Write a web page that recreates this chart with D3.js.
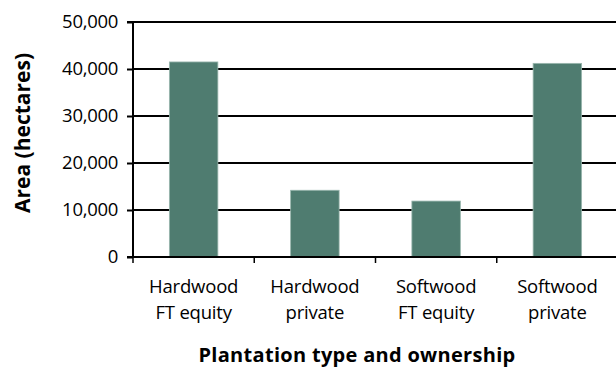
<!DOCTYPE html>
<html><head><meta charset="utf-8">
<script src="https://cdn.jsdelivr.net/npm/d3@7"></script>
<style>body{margin:0;background:#fff}svg{display:block}text{font-family:"Open Sans",sans-serif;fill:#000}</style>
</head><body>
<svg id="c" width="616" height="369"></svg>
<script>
const categories = [["Hardwood","FT equity"],["Hardwood","private"],["Softwood","FT equity"],["Softwood","private"]];
const values = [41500, 14200, 11900, 41200];
const yTicks = [0, 10000, 20000, 30000, 40000, 50000];
const yTitle = "Area (hectares)";
const xTitle = "Plantation type and ownership";

const svg = d3.select("#c");
const mLeft = 133, mRight = 618, mTop = 22, mBottom = 257;
const x = d3.scaleBand().domain(d3.range(categories.length)).range([mLeft, mRight]).paddingInner(0.6).paddingOuter(0.3);
const xb = d3.scaleBand().domain(d3.range(categories.length)).range([mLeft, mRight]);
const y = d3.scaleLinear().domain([0, 50000]).range([mBottom, mTop]);

// gridlines
svg.append("g").selectAll("line").data(yTicks.slice(1)).join("line")
  .attr("x1", mLeft).attr("x2", mRight).attr("y1", d => y(d)).attr("y2", d => y(d))
  .attr("stroke", "#000").attr("stroke-width", 2);

// bars
svg.append("g").selectAll("rect").data(values).join("rect")
  .attr("x", (d, i) => x(i)).attr("width", x.bandwidth())
  .attr("y", d => y(d)).attr("height", d => y(0) - y(d))
  .attr("fill", "#4f7c70").attr("stroke", "#9ab7ae").attr("stroke-width", 0.8);

// y axis
const ya = svg.append("g").attr("transform", `translate(${mLeft},0)`)
  .call(d3.axisLeft(y).tickValues(yTicks).tickSize(6).tickPadding(9).tickFormat(d3.format(",")));
ya.select(".domain").attr("stroke", "#000").attr("stroke-width", 2).attr("d", `M-6,${mTop}H0V${mBottom}H-6`);
ya.selectAll(".tick line").attr("stroke", "#000").attr("stroke-width", 2);
ya.selectAll(".tick text").attr("font-size", 18.5).attr("font-family", "'Open Sans',sans-serif").attr("fill", "#000").attr("letter-spacing", -0.3);

// x axis
const xa = svg.append("g").attr("transform", `translate(0,${mBottom})`);
xa.append("line").attr("x1", mLeft - 6).attr("x2", mRight).attr("y1", 0).attr("y2", 0).attr("stroke", "#000").attr("stroke-width", 2);
xa.selectAll("line.t").data(d3.range(categories.length + 1)).join("line").attr("class", "t")
  .attr("x1", i => i < categories.length ? xb(i) : mRight).attr("x2", i => i < categories.length ? xb(i) : mRight)
  .attr("y1", 0).attr("y2", 6).attr("stroke", "#000").attr("stroke-width", 1.5);
const lab = xa.selectAll("text.c").data(categories).join("text").attr("class", "c")
  .attr("text-anchor", "middle").attr("font-size", 18.5).attr("letter-spacing", -0.2);
lab.each(function(d, i) {
  const t = d3.select(this);
  d.forEach((s, j) => t.append("tspan").attr("x", xb(i) + xb.bandwidth() / 2).attr("y", 36 + j * 26).text(s));
});

// titles
svg.append("text").attr("transform", `translate(30,133) rotate(-90)`)
  .attr("text-anchor", "middle").attr("font-size", 21).attr("font-weight", "bold").text(yTitle);
svg.append("text").attr("x", 357).attr("y", 362).attr("text-anchor", "middle")
  .attr("font-size", 20).attr("font-weight", "bold").attr("letter-spacing", 0.3).text(xTitle);
</script>
</body></html>
